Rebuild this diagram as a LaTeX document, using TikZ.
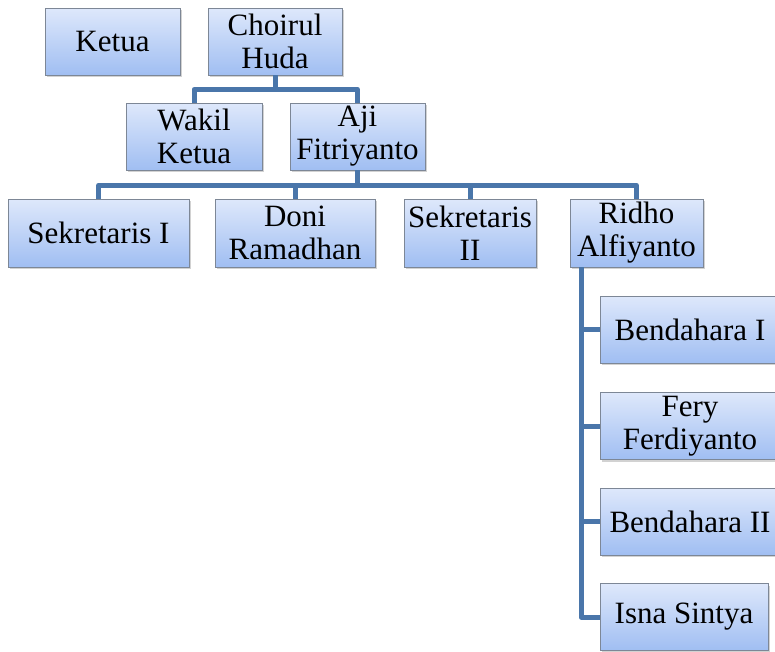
\documentclass[tikz,border=0pt]{standalone}
\usepackage{fontspec}
\setmainfont{Liberation Serif}
\usetikzlibrary{shadows}
\definecolor{ctop}{RGB}{222,232,251}
\definecolor{cbot}{RGB}{160,190,242}
\definecolor{cedge}{RGB}{125,135,150}
\definecolor{cline}{RGB}{74,118,170}
\tikzset{orgsec/.style={x=1pt,y=-1pt}}
\tikzset{unit/.style={draw=cedge,line width=0.8pt,top color=ctop,bottom color=cbot,
           drop shadow={shadow xshift=2pt,shadow yshift=-2pt,fill=black!35},
           minimum height=67pt,inner sep=1pt,align=center,
           font=\fontsize{31}{33}\selectfont},
         link/.style={cline,line width=5pt,line join=round}}

\begin{document}
\begin{tikzpicture}[orgsec]
    \useasboundingbox (0,0) rectangle (775,651);
    \clip (0,0) rectangle (775,651);
    % top rows
    \node[unit,minimum width=135pt] (ketua)   at (112.5,41.5) {Ketua};
    \node[unit,minimum width=134pt] (choirul) at (275,41.5)   {Choirul\\Huda};
    \node[unit,minimum width=136pt] (wakil)   at (194,136.5)  {Wakil\\Ketua};
    \node[unit,minimum width=135pt] (aji)     at (357.5,136.5){Aji\\Fitriyanto};
    % sekretaris row
    \node[unit,minimum width=181pt,minimum height=68pt] (sek1)  at (98.5,233) {Sekretaris I};
    \node[unit,minimum width=160pt,minimum height=68pt] (doni)  at (295,233)  {Doni\\Ramadhan};
    \node[unit,minimum width=132pt,minimum height=68pt] (sek2)  at (470,233)  {Sekretaris\\II};
    \node[unit,minimum width=133pt,minimum height=68pt] (ridho) at (636.5,233){Ridho\\Alfiyanto};
    % bendahara column
    \node[unit,minimum width=180pt] (bend1) at (690,329.5) {Bendahara I};
    \node[unit,minimum width=180pt] (fery)  at (690,426)   {Fery\\Ferdiyanto};
    \node[unit,minimum width=180pt] (bend2) at (690,521.5) {Bendahara II};
    \node[unit,minimum width=168pt] (isna)  at (684,617)   {Isna Sintya};
    % connectors
    \draw[link] (choirul.south) -- ++(0,14) -| (wakil.north);
    \draw[link] (choirul.south) -- ++(0,14) -| (aji.north);
    \foreach \m in {sek1,doni,sek2,ridho}
      \draw[link] (aji.south) -- ++(0,15) -| (\m.north);
    \coordinate (spine) at (581,267);
    \foreach \m in {bend1,fery,bend2,isna}
      \draw[link] (spine) |- (\m.west);
\end{tikzpicture}
\end{document}
